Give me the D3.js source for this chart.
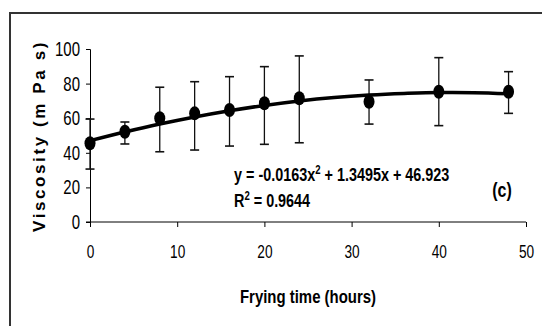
<!DOCTYPE html>
<html>
<head>
<meta charset="utf-8">
<script src="https://cdn.jsdelivr.net/npm/d3@7"></script>
<style>
  html, body { margin: 0; padding: 0; background: #fff; }
  svg { display: block; }
  text { font-family: "Liberation Sans", Arial, sans-serif; }
</style>
</head>
<body>
<svg id="chart" width="542" height="326"></svg>
<script>
// ---- data ----
const hours     = [0, 4, 8, 12, 16, 20, 24, 32, 40, 48];
const viscosity = [45.5, 52.2, 60.0, 62.8, 64.7, 68.6, 71.5, 69.5, 75.3, 75.3];
const errUpper  = [59.5, 57.8, 77.9, 81.1, 84.0, 89.8, 96.0, 82.1, 95.0, 86.9];
const errLower  = [30.6, 45.1, 40.6, 41.6, 43.9, 44.9, 45.8, 56.6, 55.7, 62.8];
// trend line as it appears on the picture (read at 4 h steps)
const trendX    = [0, 4, 8, 12, 16, 20, 24, 28, 32, 36, 40, 44, 48];
const trendY    = [47.0, 52.0, 56.6, 60.7, 64.3, 67.4, 70.0, 72.0, 73.4, 74.3, 74.8, 74.7, 74.1];
const xTicks    = [0, 10, 20, 30, 40, 50];
const yTicks    = [0, 20, 40, 60, 80, 100];
const eqLine1   = "y = -0.0163x";
const eqLine1b  = " + 1.3495x + 46.923";
const eqLine2   = "R";
const eqLine2b  = " = 0.9644";
const panelTag  = "(c)";
const xTitle    = "Frying time (hours)";
const yTitle    = "Viscosity (m Pa s)";

const svg = d3.select("#chart");
const x = d3.scaleLinear().domain([0, 50]).range([90, 526]);
const y = d3.scaleLinear().domain([0, 100]).range([222, 49]);

// condensed text helper (no narrow face installed -> compress horizontally)
function narrowText(px, py, sx) {
  return svg.append("g")
    .attr("transform", `translate(${px},${py}) scale(${sx},1)`)
    .append("text").attr("x", 0).attr("y", 0);
}

// outer frame (only top and left visible)
svg.append("rect")
  .attr("x", 10).attr("y", 13).attr("width", 600).attr("height", 400)
  .attr("fill", "none").attr("stroke", "#333").attr("stroke-width", 2);

// axes
const ySX = 0.75, xSX = 0.76;
const yAxis = d3.axisLeft(y).tickValues(yTicks).tickSize(4).tickPadding(6);
const gy = svg.append("g").attr("transform", `translate(${x(0)},0)`).call(yAxis);
gy.select(".domain").attr("stroke", "#000");
gy.selectAll(".tick line").attr("stroke", "#000");
gy.selectAll("text")
  .attr("font-family", null).attr("font-size", 20).attr("fill", "#000")
  .attr("x", -10 / ySX).attr("transform", `scale(${ySX},1)`);

const xAxis = d3.axisBottom(x).tickValues(xTicks).tickSize(5).tickPadding(18);
const gx = svg.append("g").attr("transform", `translate(0,${y(0)})`).call(xAxis);
gx.select(".domain").attr("stroke", "#000").attr("d", `M${x(0)-4},0H${x(50)}`);
gx.selectAll(".tick line").attr("stroke", "#000");
gx.selectAll("text")
  .attr("font-family", null).attr("font-size", 18).attr("fill", "#000")
  .attr("transform", `scale(${xSX},1)`);

// error bars
const eb = svg.append("g");
hours.forEach((h, i) => {
  eb.append("line").attr("x1", x(h)).attr("x2", x(h))
    .attr("y1", y(errUpper[i])).attr("y2", y(errLower[i]))
    .attr("stroke", "#111").attr("stroke-width", 1.3);
  [errUpper[i], errLower[i]].forEach(v => {
    eb.append("line").attr("x1", x(h) - 4.5).attr("x2", x(h) + 4.5)
      .attr("y1", y(v)).attr("y2", y(v))
      .attr("stroke", "#111").attr("stroke-width", 1.6);
  });
});

// trend line
svg.append("path")
  .datum(trendX.map((t, i) => [t, trendY[i]]))
  .attr("d", d3.line().x(d => x(d[0])).y(d => y(d[1])).curve(d3.curveMonotoneX))
  .attr("fill", "none").attr("stroke", "#000").attr("stroke-width", 3.5);

// markers
svg.append("g").selectAll("ellipse")
  .data(hours.map((h, i) => [h, viscosity[i]]))
  .join("ellipse")
  .attr("cx", d => x(d[0])).attr("cy", d => y(d[1]))
  .attr("rx", 5.5).attr("ry", 7).attr("fill", "#000");

// equation text
const eqSX = 0.8;
const eq = narrowText(234, 181, eqSX).attr("font-size", 18).attr("font-weight", "bold");
eq.append("tspan").text(eqLine1);
eq.append("tspan").attr("dy", -7).attr("font-size", 12).text("2");
eq.append("tspan").attr("dy", 7).text(eqLine1b);

const r2 = narrowText(234, 207, eqSX).attr("font-size", 18).attr("font-weight", "bold");
r2.append("tspan").text(eqLine2);
r2.append("tspan").attr("dy", -7).attr("font-size", 12).text("2");
r2.append("tspan").attr("dy", 7).text(eqLine2b);

narrowText(502, 197, 0.8).attr("text-anchor", "middle")
  .attr("font-size", 20).attr("font-weight", "bold").text(panelTag);

// axis titles
narrowText(308, 303, 0.83).attr("text-anchor", "middle")
  .attr("font-size", 18).attr("font-weight", "bold").text(xTitle);

svg.append("text")
  .attr("transform", `translate(45,136) rotate(-90)`)
  .attr("text-anchor", "middle")
  .attr("font-size", 17).attr("font-weight", "bold")
  .attr("letter-spacing", 2.6)
  .text(yTitle);
</script>
</body>
</html>
